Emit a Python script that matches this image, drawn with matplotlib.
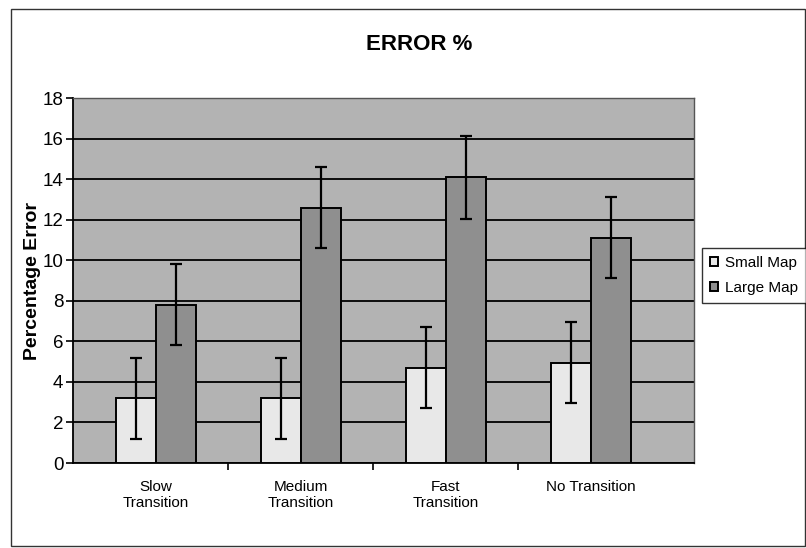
import matplotlib
matplotlib.use("Agg")
import matplotlib.pyplot as plt
from matplotlib.patches import Rectangle
import numpy as np

plt.rcParams['font.family'] = ['Liberation Sans', 'DejaVu Sans']

categories = ["Slow\nTransition", "Medium\nTransition", "Fast\nTransition", "No Transition"]
small_map = [3.2, 3.2, 4.7, 4.95]
large_map = [7.8, 12.6, 14.1, 11.1]
small_err = [2.0, 2.0, 2.0, 2.0]
large_err = [2.0, 2.0, 2.05, 2.0]
series_names = ["Small Map", "Large Map"]
yticks = [0, 2, 4, 6, 8, 10, 12, 14, 16, 18]

fig = plt.figure(figsize=(8.06, 5.48), dpi=100)
fig.patch.set_facecolor("white")
fig.patches.append(Rectangle((11/806, 1-546/548), (805-11)/806, (546-9)/548,
                             transform=fig.transFigure, fill=False,
                             edgecolor="#333333", lw=1.0))

ax = fig.add_axes([73/806, 1-463/548, (694-73)/806, (463-98)/548])
ax.set_facecolor("#b3b3b3")

x = np.arange(len(categories))
w = 0.275
ax.bar(x - w/2, small_map, w, color="#e8e8e8", edgecolor="black", lw=1.4,
       label=series_names[0], zorder=3)
ax.bar(x + w/2, large_map, w, color="#8f8f8f", edgecolor="black", lw=1.4,
       label=series_names[1], zorder=3)
ax.errorbar(x - w/2, small_map, yerr=small_err, fmt="none", ecolor="black",
            elinewidth=1.6, capsize=4.5, capthick=1.6, zorder=4)
ax.errorbar(x + w/2, large_map, yerr=large_err, fmt="none", ecolor="black",
            elinewidth=1.6, capsize=4.5, capthick=1.6, zorder=4)

ax.set_ylim(0, 18)
ax.set_xlim(-0.57, 3.71)
ax.set_yticks(yticks)
ax.yaxis.grid(True, color="black", lw=1.3, zorder=1)
ax.set_axisbelow(True)

ax.set_xticks(x)
ax.set_xticklabels(categories, fontsize=11)
ax.set_xticks([0.5, 1.5, 2.5], minor=True)
ax.tick_params(axis="x", which="major", length=0, pad=12)
ax.tick_params(axis="x", which="minor", length=5, direction="out", width=1.2)
ax.tick_params(axis="y", length=5, direction="out", width=1.2, labelsize=13.5, pad=2)

for s in ["left", "bottom"]:
    ax.spines[s].set_color("black")
    ax.spines[s].set_linewidth(1.3)
for s in ["top", "right"]:
    ax.spines[s].set_color("#555555")
    ax.spines[s].set_linewidth(1.0)

ax.set_ylabel("Percentage Error", fontsize=14, fontweight="bold", labelpad=1)
fig.text(419/806, 1-45/548, "ERROR %", ha="center", va="center",
         fontsize=16, fontweight="bold")

leg = fig.legend(loc="upper left", bbox_to_anchor=(702/806, 1-248/548),
                 fontsize=11, frameon=True, fancybox=False, edgecolor="black",
                 handlelength=0.55, handleheight=0.55, handletextpad=0.45,
                 borderpad=0.5, labelspacing=0.75, borderaxespad=0)
leg.get_frame().set_linewidth(1.0)

fig.savefig("out.png", dpi=100)
